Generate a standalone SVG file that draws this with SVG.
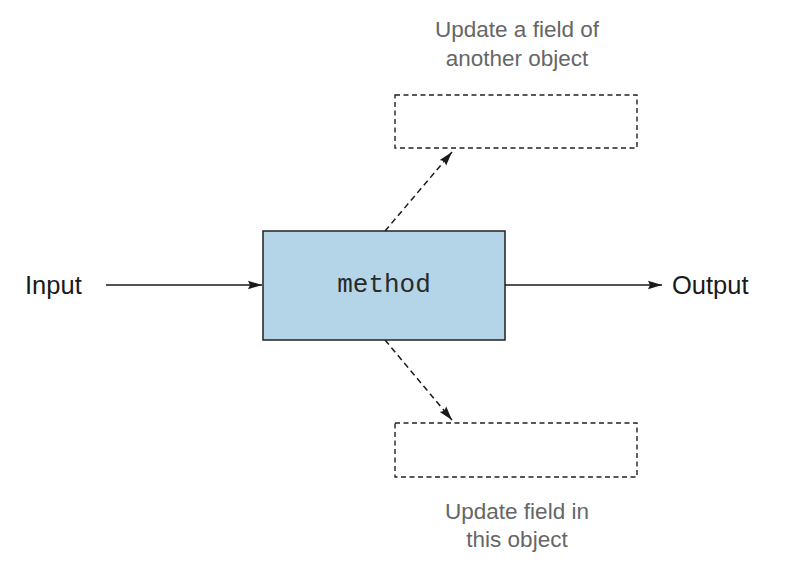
<svg xmlns="http://www.w3.org/2000/svg" width="790" height="566" viewBox="0 0 790 566">
<defs>
<marker id="ah" markerWidth="15" markerHeight="10" refX="14" refY="5" orient="auto" markerUnits="userSpaceOnUse">
<path d="M0,0.8 L14,5 L0,9.2 L2,5 Z" fill="#1a1a1a"/>
</marker>
<style>
.lbl{font-family:"Liberation Sans",Arial,sans-serif;font-size:22.5px;fill:#666;text-anchor:middle}
.io{font-family:"Liberation Sans",Arial,sans-serif;font-size:25.5px;fill:#1a1a1a}
.mono{font-family:"Liberation Mono","Courier New",monospace;font-size:26px;fill:#2a2a2a;text-anchor:middle}
.dbox{fill:#fff;stroke:#222;stroke-width:1.4;stroke-dasharray:5 3.5}
.solid{stroke:#1a1a1a;stroke-width:1.5;fill:none}
.dash{stroke:#1a1a1a;stroke-width:1.5;fill:none;stroke-dasharray:6 4}
</style>
</defs>
<rect width="790" height="566" fill="#fff"/>
<g id="connectors">
<line class="solid" x1="106" y1="285" x2="262" y2="285" marker-end="url(#ah)"/>
<line class="solid" x1="505" y1="285" x2="662" y2="285" marker-end="url(#ah)"/>
<line class="dash" x1="385" y1="231" x2="452" y2="152" marker-end="url(#ah)"/>
<line class="dash" x1="385" y1="340" x2="452" y2="420" marker-end="url(#ah)"/>
</g>
<g id="input"><text class="io" x="25" y="294">Input</text></g>
<g id="output"><text class="io" x="672" y="294">Output</text></g>
<g id="method">
<rect x="263" y="231" width="242" height="109" fill="#b3d5e7" stroke="#222" stroke-width="1.5"/>
<text class="mono" x="384" y="292">method</text>
</g>
<g id="other-object">
<rect class="dbox" x="395" y="95" width="242" height="53"/>
<text class="lbl" x="517" y="37">Update a field of</text>
<text class="lbl" x="517" y="66">another object</text>
</g>
<g id="this-object">
<rect class="dbox" x="395" y="423" width="242" height="54"/>
<text class="lbl" x="517" y="519">Update field in</text>
<text class="lbl" x="517" y="547">this object</text>
</g>
</svg>
